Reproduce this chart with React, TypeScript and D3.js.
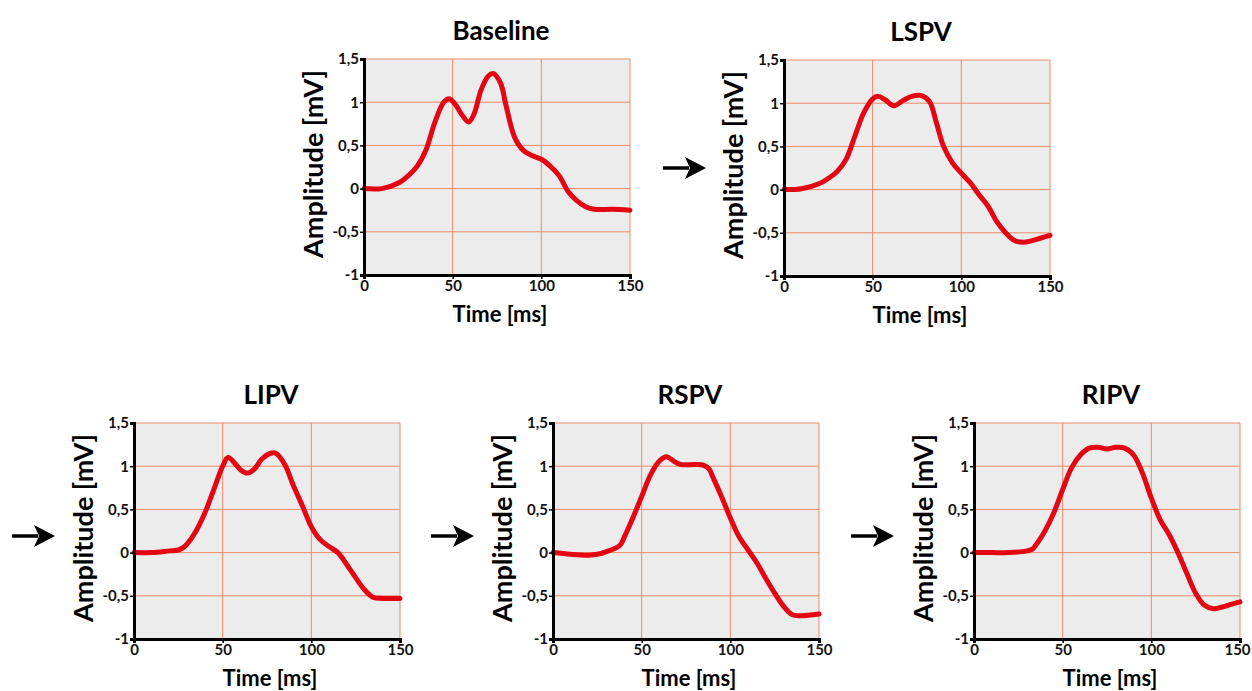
import React, { useRef, useEffect } from "react";
import * as d3 from "d3";

// time axis samples (ms) and amplitude (mV) for each recording
const baselineT = [0, 10, 20, 25, 30, 35, 40, 45, 48, 52, 55, 59, 62, 66, 70, 73, 77, 80, 85, 90, 95, 100, 105, 110, 115, 120, 125, 130, 140, 150];
const baselineV = [0, 0, 0.07, 0.15, 0.26, 0.45, 0.77, 1.0, 1.04, 0.96, 0.86, 0.77, 0.86, 1.14, 1.3, 1.33, 1.22, 0.97, 0.59, 0.44, 0.38, 0.34, 0.26, 0.15, -0.03, -0.14, -0.21, -0.24, -0.24, -0.25];

const lspvT = [0, 10, 20, 25, 30, 35, 40, 45, 50, 53, 57, 62, 67, 72, 77, 82, 86, 90, 95, 100, 105, 110, 115, 120, 125, 130, 135, 140, 145, 150];
const lspvV = [0, 0.01, 0.07, 0.13, 0.21, 0.35, 0.62, 0.89, 1.05, 1.08, 1.04, 0.97, 1.03, 1.08, 1.09, 1.02, 0.77, 0.5, 0.31, 0.19, 0.08, -0.06, -0.19, -0.37, -0.5, -0.59, -0.61, -0.59, -0.56, -0.53];

const lipvT = [0, 10, 20, 25, 28, 30, 35, 40, 45, 50, 53, 57, 60, 64, 68, 72, 77, 80, 85, 90, 95, 100, 105, 110, 115, 120, 125, 130, 135, 140, 150];
const lipvV = [0, 0, 0.02, 0.03, 0.06, 0.1, 0.25, 0.46, 0.73, 1.0, 1.1, 1.03, 0.96, 0.92, 0.97, 1.08, 1.15, 1.15, 1.02, 0.77, 0.54, 0.3, 0.15, 0.07, 0.0, -0.14, -0.29, -0.43, -0.52, -0.53, -0.53];

const rspvT = [0, 10, 20, 25, 30, 35, 38, 40, 45, 50, 55, 60, 64, 68, 72, 80, 85, 88, 90, 95, 100, 105, 110, 115, 120, 125, 130, 135, 140, 150];
const rspvV = [0, -0.02, -0.03, -0.02, 0.01, 0.05, 0.09, 0.17, 0.4, 0.65, 0.9, 1.06, 1.11, 1.06, 1.02, 1.02, 1.01, 0.97, 0.88, 0.65, 0.4, 0.18, 0.03, -0.12, -0.3, -0.47, -0.62, -0.72, -0.73, -0.71];

const ripvT = [0, 10, 20, 30, 33, 35, 40, 45, 50, 55, 60, 65, 70, 75, 80, 85, 90, 95, 100, 105, 110, 115, 120, 125, 130, 135, 140, 145, 150];
const ripvV = [0, 0, 0, 0.02, 0.04, 0.09, 0.25, 0.46, 0.73, 0.98, 1.13, 1.21, 1.22, 1.2, 1.22, 1.21, 1.13, 0.92, 0.63, 0.38, 0.21, 0.0, -0.24, -0.47, -0.61, -0.65, -0.63, -0.6, -0.57];

const titles = ["Baseline", "LSPV", "LIPV", "RSPV", "RIPV"];
const xTicks = [0, 50, 100, 150];
const yTicks = [-1, -0.5, 0, 0.5, 1, 1.5];
const yTickLabels = ["-1", "-0,5", "0", "0,5", "1", "1,5"];

const panels = [
  { title: titles[0], t: baselineT, v: baselineV, left: 364, top: 59, arrow: null },
  { title: titles[1], t: lspvT, v: lspvV, left: 784, top: 60, arrow: [663, 168] },
  { title: titles[2], t: lipvT, v: lipvV, left: 134, top: 423, arrow: [12, 536] },
  { title: titles[3], t: rspvT, v: rspvV, left: 553, top: 423, arrow: [431, 536] },
  { title: titles[4], t: ripvT, v: ripvV, left: 974, top: 423, arrow: [851, 536] },
];

const W = 266;
const H = 216;
const font = "Lato, 'Open Sans', sans-serif";

const App = () => {
  const svgRef = useRef(null);

  useEffect(() => {
    const svg = d3.select(svgRef.current);
    svg.selectAll("*").remove();

    const x = d3.scaleLinear().domain([0, 150]).range([0, W]);
    const y = d3.scaleLinear().domain([-1, 1.5]).range([H, 0]);

    panels.forEach((p, pi) => {
      const g = svg.append("g").attr("transform", `translate(${p.left},${p.top})`);

      g.append("rect").attr("width", W).attr("height", H).attr("fill", "#ececec");

      // grid
      g.selectAll(".hg")
        .data(yTicks.slice(1))
        .join("line")
        .attr("x1", 0)
        .attr("x2", W)
        .attr("y1", (d) => y(d))
        .attr("y2", (d) => y(d))
        .attr("stroke", "#ee8a66")
        .attr("stroke-width", 1);
      g.selectAll(".vg")
        .data(xTicks.slice(1))
        .join("line")
        .attr("x1", (d) => x(d))
        .attr("x2", (d) => x(d))
        .attr("y1", 0)
        .attr("y2", H)
        .attr("stroke", "#ee8a66")
        .attr("stroke-width", 1);

      const myLine = d3
        .line<number>()
        .x((d, i) => x(p.t[i]))
        .y((d) => y(d))
        .curve(d3.curveCatmullRom.alpha(0.5));

      g.append("path")
        .attr("d", myLine(p.v))
        .attr("fill", "none")
        .attr("stroke", "#e30613")
        .attr("stroke-width", 5)
        .attr("stroke-linejoin", "round")
        .attr("stroke-linecap", "round");

      // axes
      const xAxis = d3.axisBottom(x).tickValues(xTicks).tickSize(4).tickPadding(1);
      const gx = g.append("g").attr("transform", `translate(0,${H})`).call(xAxis);
      const yAxis = d3
        .axisLeft(y)
        .tickValues(yTicks)
        .tickSize(4)
        .tickPadding(1)
        .tickFormat((d, i) => yTickLabels[i]);
      const gy = g.append("g").call(yAxis);

      [gx, gy].forEach((a) => {
        a.select(".domain").attr("stroke", "#000").attr("stroke-width", 3);
        a.selectAll(".tick line").attr("stroke", "#000").attr("stroke-width", 1.5);
        a.selectAll(".tick text")
          .attr("fill", "#111")
          .style("font-family", font)
          .style("font-weight", "bold")
          .style("font-size", "15px");
      });
      // last panel sits at the page edge: keep its "150" inside
      if (pi === panels.length - 1) {
        gx.selectAll(".tick text").filter((d) => d === 150).attr("dx", -3);
      }

      g.append("text")
        .attr("x", W / 2 + 4)
        .attr("y", -19)
        .attr("text-anchor", "middle")
        .style("font-family", font)
        .style("font-weight", "bold")
        .style("font-size", "26px")
        .text(p.title);

      g.append("text")
        .attr("x", W / 2 + 3)
        .attr("y", H + 47)
        .attr("text-anchor", "middle")
        .style("font-family", font)
        .style("font-weight", "bold")
        .style("font-size", "22px")
        .text("Time [ms]");

      g.append("text")
        .attr("transform", `translate(-41,${H / 2 - 3}) rotate(-90)`)
        .attr("text-anchor", "middle")
        .style("font-family", font)
        .style("font-weight", "bold")
        .style("font-size", "27px")
        .text("Amplitude [mV]");

      if (p.arrow) {
        const [ax, ay] = p.arrow;
        const a = svg.append("g").attr("transform", `translate(${ax},${ay})`);
        a.append("line")
          .attr("x1", 0)
          .attr("x2", 26)
          .attr("y1", 0)
          .attr("y2", 0)
          .attr("stroke", "#000")
          .attr("stroke-width", 3.5);
        a.append("path").attr("d", "M22,-11 L43,0 L22,11 L27,0 Z").attr("fill", "#000");
      }
    });
  }, []);

  return (
    <svg
      ref={svgRef}
      width={1252}
      height={691}
      style={{ position: "absolute", left: 0, top: 0, background: "#fff" }}
    />
  );
};

export default App;
